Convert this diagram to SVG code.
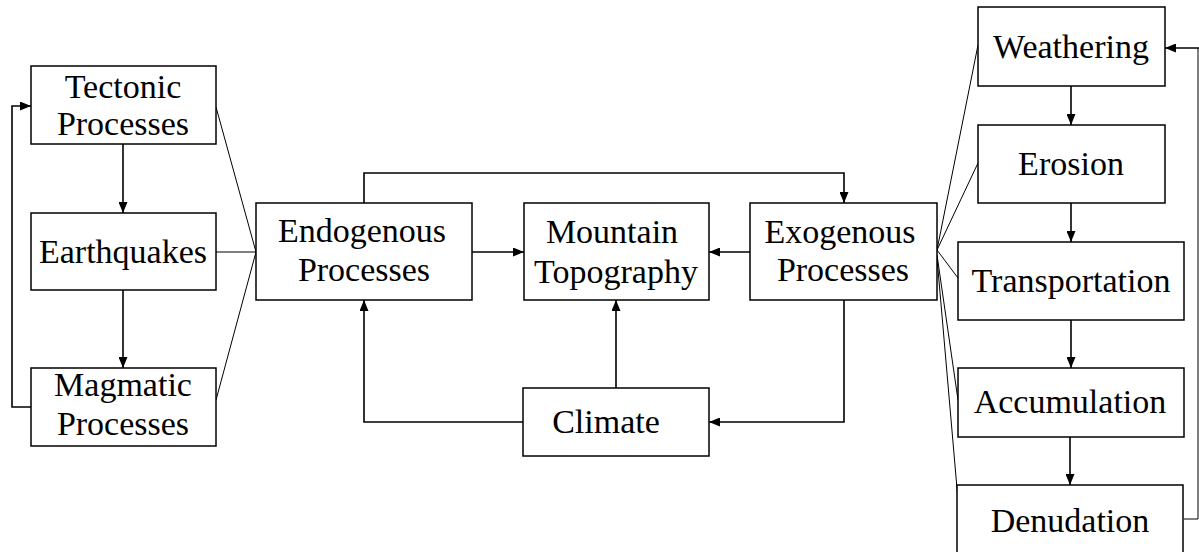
<svg xmlns="http://www.w3.org/2000/svg" width="1199" height="552" viewBox="0 0 1199 552">
<style>
.box{fill:#fff;stroke:#000;stroke-width:1.5}
.t{font-family:"Liberation Serif","Times New Roman",serif;font-size:34px;fill:#000;text-anchor:middle}
.c{fill:none;stroke:#000;stroke-width:1.6}
.f{fill:none;stroke:#000;stroke-width:1}
</style>
<defs>
<marker id="ah" markerWidth="11" markerHeight="9" refX="11" refY="4.5" orient="auto" markerUnits="userSpaceOnUse">
<path d="M0,0 L11,4.5 L0,9 Z" fill="#000"/>
</marker>
</defs>
<rect width="1199" height="552" fill="#fff"/>
<g id="connectors">
<line class="c" x1="123" y1="144" x2="123" y2="213" marker-end="url(#ah)"/>
<line class="c" x1="123" y1="290" x2="123" y2="368" marker-end="url(#ah)"/>
<polyline class="c" points="31,407 12,407 12,106 31,106" marker-end="url(#ah)"/>
<line class="f" x1="216" y1="107" x2="256" y2="252"/>
<line class="f" x1="216" y1="252" x2="256" y2="252"/>
<line class="f" x1="216" y1="400" x2="256" y2="252"/>
<polyline class="c" points="364,203 364,173 844,173 844,203" marker-end="url(#ah)"/>
<line class="c" x1="472" y1="252" x2="524" y2="252" marker-end="url(#ah)"/>
<line class="c" x1="750" y1="252" x2="709" y2="252" marker-end="url(#ah)"/>
<line class="c" x1="616" y1="388" x2="616" y2="300" marker-end="url(#ah)"/>
<polyline class="c" points="523,422 364,422 364,300" marker-end="url(#ah)"/>
<polyline class="c" points="844,300 844,422 709,422" marker-end="url(#ah)"/>
<line class="f" x1="937" y1="250" x2="978" y2="45"/>
<line class="f" x1="937" y1="250" x2="978" y2="163"/>
<line class="f" x1="937" y1="250" x2="958" y2="278"/>
<line class="f" x1="937" y1="255" x2="958" y2="400"/>
<line class="f" x1="937" y1="258" x2="958" y2="500"/>
<line class="c" x1="1071" y1="86" x2="1071" y2="125" marker-end="url(#ah)"/>
<line class="c" x1="1071" y1="203" x2="1071" y2="242" marker-end="url(#ah)"/>
<line class="c" x1="1071" y1="320" x2="1071" y2="368" marker-end="url(#ah)"/>
<line class="c" x1="1070" y1="437" x2="1070" y2="485" marker-end="url(#ah)"/>
<polyline class="f" points="1184,519 1198,519 1198,48"/>
<line class="c" x1="1199" y1="48" x2="1165" y2="48" marker-end="url(#ah)"/>
</g>
<g id="tectonic"><rect class="box" x="31" y="66" width="185" height="78"/><text class="t" x="123" y="98">Tectonic</text><text class="t" x="123" y="135">Processes</text></g>
<g id="earthquakes"><rect class="box" x="31" y="213" width="185" height="77"/><text class="t" x="123" y="263">Earthquakes</text></g>
<g id="magmatic"><rect class="box" x="31" y="368" width="185" height="78"/><text class="t" x="123" y="396">Magmatic</text><text class="t" x="123" y="435">Processes</text></g>
<g id="endogenous"><rect class="box" x="256" y="203" width="216" height="97"/><text class="t" x="362" y="242">Endogenous</text><text class="t" x="364" y="281">Processes</text></g>
<g id="mountain"><rect class="box" x="524" y="203" width="185" height="97"/><text class="t" x="612" y="243">Mountain</text><text class="t" x="616" y="283">Topography</text></g>
<g id="exogenous"><rect class="box" x="750" y="203" width="187" height="97"/><text class="t" x="840" y="243">Exogenous</text><text class="t" x="843" y="281">Processes</text></g>
<g id="climate"><rect class="box" x="523" y="388" width="186" height="68"/><text class="t" x="606" y="433">Climate</text></g>
<g id="weathering"><rect class="box" x="978" y="7" width="187" height="79"/><text class="t" x="1071" y="58">Weathering</text></g>
<g id="erosion"><rect class="box" x="978" y="125" width="187" height="78"/><text class="t" x="1071" y="175">Erosion</text></g>
<g id="transportation"><rect class="box" x="958" y="242" width="226" height="78"/><text class="t" x="1071" y="292">Transportation</text></g>
<g id="accumulation"><rect class="box" x="958" y="368" width="226" height="69"/><text class="t" x="1070" y="413">Accumulation</text></g>
<g id="denudation"><rect class="box" x="957" y="485" width="226" height="80"/><text class="t" x="1070" y="532">Denudation</text></g>
</svg>
